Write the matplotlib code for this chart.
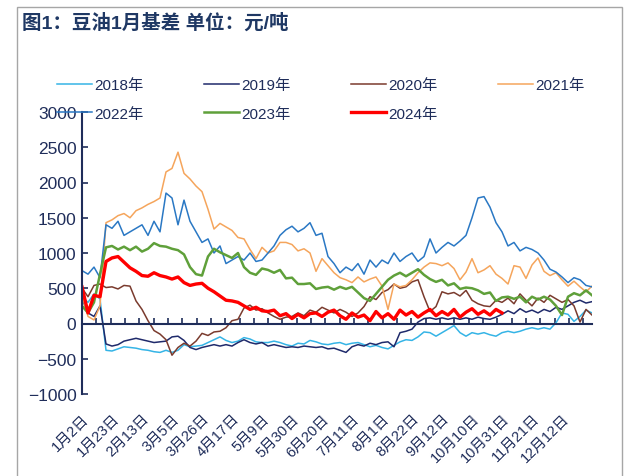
import numpy as np
import matplotlib
matplotlib.use("Agg")
import matplotlib.pyplot as plt
from matplotlib.patches import Rectangle

plt.rcParams['font.family'] = ['Liberation Sans', 'Noto Sans CJK SC', 'DejaVu Sans']

# Trading-day index (every 3rd day)
x_all = np.arange(0, 256, 3)
x_2024 = np.arange(0, 211, 3)

date_labels = ["1月2日", "1月23日", "2月13日", "3月5日", "3月26日", "4月17日",
               "5月9日", "5月30日", "6月20日", "7月11日", "8月1日", "8月22日",
               "9月12日", "10月10日", "10月31日", "11月21日", "12月12日"]

y2018 = [380, 300, 420, 350, -380, -390, -360, -330, -340, -350,
         -370, -380, -400, -410, -380, -410, -380, -300, -330, -320,
         -310, -270, -230, -190, -240, -270, -250, -200, -220, -260,
         -270, -270, -250, -270, -300, -320, -280, -290, -240, -260,
         -290, -300, -280, -270, -300, -280, -270, -300, -330, -310,
         -340, -360, -310, -260, -230, -240, -190, -120, -130, -180,
         -130, -80, -30, -130, -180, -130, -150, -130, -160, -180,
         -130, -110, -130, -110, -80, -60, -80, -60, -80, 10,
         150, 130, 30, 100, 190, 150]

y2019 = [350, 150, 100, 250, -290, -320, -300, -250, -230, -210,
         -230, -250, -270, -260, -250, -190, -180, -240, -340, -370,
         -340, -320, -300, -320, -300, -320, -270, -230, -270, -290,
         -270, -320, -300, -320, -340, -330, -340, -320, -330, -340,
         -330, -360, -350, -380, -410, -330, -300, -320, -280, -300,
         -270, -260, -330, -130, -110, -80, 20, 70, 80, 60,
         80, 60, 80, 60, 80, 60, 90, 70, 60, 90,
         130, 180, 140, 210, 160, 190, 150, 200, 170, 230,
         200, 250, 300, 330, 290, 310]

y2020 = [500, 380, 540, 560, 510, 520, 490, 540, 530, 320,
         200, 40, -100, -150, -230, -450, -340, -280, -320, -250,
         -140, -170, -120, -110, -60, 40, 60, 220, 260, 190,
         210, 150, 100, 60, 90, 100, 150, 110, 190, 160,
         230, 190, 150, 200, 160, 100, 150, 240, 380, 340,
         440, 480, 560, 500, 520, 590, 620, 380, 170, 240,
         450, 420, 440, 390, 470, 330, 280, 250, 240, 330,
         300, 360, 280, 420, 330, 250, 360, 300, 400, 350,
         300, 340, 250, 20, 200, 120]

y2021 = [400, 100, 50, 250, 1430, 1470, 1530, 1560, 1500, 1600,
         1640, 1690, 1730, 1780, 2150, 2200, 2430, 2130, 2050, 1950,
         1870, 1620, 1340, 1420, 1370, 1320, 1220, 1200, 1050, 920,
         1080, 1000, 1030, 1150, 1150, 1120, 1030, 1060, 1000, 740,
         920, 820, 720, 650, 620, 580, 660, 590, 630, 660,
         530, 200, 560, 520, 540, 620, 720, 800, 860, 850,
         820, 860, 780, 620, 730, 920, 720, 760, 820, 700,
         640, 560, 820, 800, 640, 830, 930, 740, 680, 720,
         620, 530, 600, 520, 450, 530]

y2022 = [750, 700, 800, 650, 1400, 1350, 1450, 1250, 1300, 1350,
         1400, 1250, 1450, 1300, 1850, 1780, 1400, 1750, 1450, 1300,
         1150, 1200, 1000, 1100, 850, 900, 950, 900, 1000, 880,
         900, 1000, 1100, 1250, 1330, 1380, 1300, 1350, 1430, 1250,
         1280, 950, 850, 720, 800, 750, 850, 700, 900, 800,
         900, 850, 1000, 880, 950, 1000, 880, 950, 1200, 1000,
         1080, 1150, 1100, 1170, 1250, 1500, 1780, 1800, 1650, 1430,
         1300, 1100, 1150, 1030, 1080, 1050, 1000, 900, 770, 730,
         660, 580, 650, 620, 540, 520]

y2023 = [250, 150, 300, 700, 1080, 1100, 1050, 1090, 1040, 1090,
         1020, 1060, 1140, 1100, 1090, 1060, 1040, 980, 800, 700,
         680, 950, 1060, 1010, 970, 930, 1000, 800, 720, 690,
         780, 760, 720, 760, 640, 650, 560, 560, 570, 490,
         510, 520, 480, 520, 490, 520, 440, 360, 320, 420,
         520, 620, 680, 720, 670, 720, 770, 690, 630, 590,
         620, 540, 570, 490, 510, 500, 470, 420, 440, 320,
         370, 380, 350, 380, 300, 380, 340, 380, 340, 250,
         120, 380, 430, 400, 470, 400]

y2024 = [520, 150, 400, 380, 880, 930, 950, 870, 790, 740,
         680, 670, 720, 680, 660, 630, 660, 580, 540, 560,
         570, 500, 450, 390, 330, 320, 300, 250, 200, 230,
         180, 170, 190, 110, 140, 70, 130, 80, 140, 150,
         100, 160, 190, 110, 60, 150, 90, 120, 40, 170,
         80, 140, 60, 190, 120, 170, 90, 150, 200, 110,
         170, 120, 200, 90, 160, 210, 130, 180, 120, 200,
         150]

navy = '#1F2D5A'

fig = plt.figure(figsize=(6.32, 4.77), dpi=100)
ax = fig.add_axes([82/632, 1-395/477, (592-82)/632, (395-113)/477])

ax.plot(x_all, y2018, color='#35B4E6', lw=1.1, label='2018年')
ax.plot(x_all, y2019, color='#1F2A6B', lw=1.1, label='2019年')
ax.plot(x_all, y2020, color='#7A3B2E', lw=1.1, label='2020年')
ax.plot(x_all, y2021, color='#F5A55C', lw=1.1, label='2021年')
ax.plot(x_all, y2022, color='#2A78C4', lw=1.1, label='2022年')
ax.plot(x_all, y2023, color='#5FA03A', lw=1.8, label='2023年')
ax.plot(x_2024, y2024, color='#FF0000', lw=2.4, label='2024年')

ax.set_xlim(0, 255)
ax.set_ylim(-1000, 3000)
ax.set_yticks(np.arange(-1000, 3001, 500))

for s in ['top', 'right']:
    ax.spines[s].set_visible(False)
ax.spines['left'].set_color(navy)
ax.spines['left'].set_linewidth(1.5)
ax.spines['bottom'].set_position(('data', 0))
ax.spines['bottom'].set_color(navy)
ax.spines['bottom'].set_linewidth(1.5)

ax.tick_params(axis='y', direction='in', length=4, width=1.2, color=navy,
               labelcolor=navy, labelsize=12.5, pad=4)
ax.set_xticks(np.arange(0, 241, 15))
ax.set_xticklabels(date_labels, rotation=45, ha='right', va='top',
                   rotation_mode='anchor')
ax.set_xticks(np.arange(0, 256, 7.16), minor=True)
ax.tick_params(axis='x', which='major', length=0, pad=63,
               labelcolor=navy, labelsize=10.5)
ax.tick_params(axis='x', which='minor', direction='in', length=4,
               width=1.2, color=navy)

# legend in row order
handles, labels = ax.get_legend_handles_labels()
order = [0, 4, 1, 5, 2, 6, 3]
fig.legend([handles[i] for i in order], [labels[i] for i in order],
           ncol=4, loc='upper left', bbox_to_anchor=(57/632, 1-79/477),
           frameon=False, fontsize=11, labelcolor=navy,
           handlelength=2.3, handletextpad=0.15, columnspacing=3.95,
           labelspacing=0.95, borderpad=0, borderaxespad=0)

fig.text(22/632, 1-23/477, "图1：豆油1月基差 单位：元/吨", fontsize=14,
         fontweight='bold', color='#1F3864', ha='left', va='center')

fig.patches.append(Rectangle((17/632, -0.02), (622-17)/632, 1.02-8/477,
                             transform=fig.transFigure, fill=False,
                             edgecolor='#A6A6A6', lw=1.0))

fig.savefig("out.png", dpi=100)
